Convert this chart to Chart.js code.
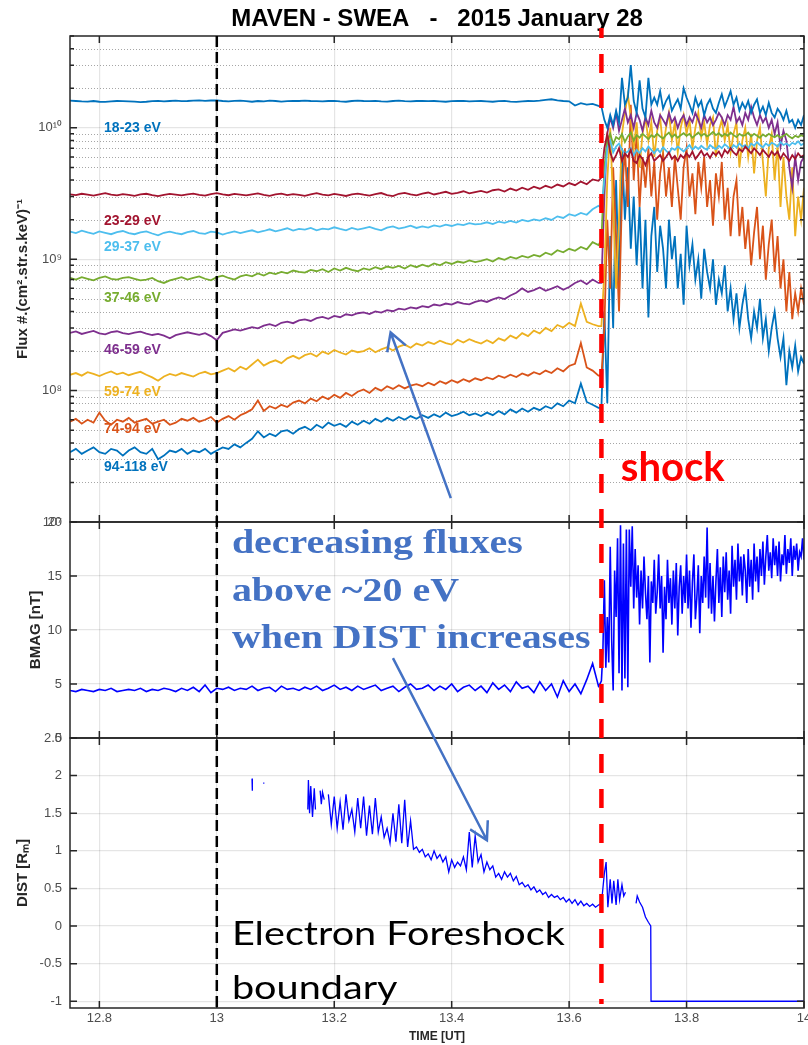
<!DOCTYPE html>
<html>
<head>
<meta charset="utf-8">
<script src="https://cdn.jsdelivr.net/npm/chart.js@4.4.1/dist/chart.umd.min.js"></script>
<style>
  html, body { margin: 0; padding: 0; background: #fff; }
  canvas { display: block; }
</style>
</head>
<body>
<canvas id="chart" width="808" height="1045"></canvas>
<script>
// sample times [UT hours]: 0.01 h before the shock, 0.005 h after it
const timeUT = [
  12.75, 12.76, 12.77, 12.78, 12.79, 12.80, 12.81, 12.82, 12.83, 12.84,
  12.85, 12.86, 12.87, 12.88, 12.89, 12.90, 12.91, 12.92, 12.93, 12.94,
  12.95, 12.96, 12.97, 12.98, 12.99, 13.00, 13.01, 13.02, 13.03, 13.04,
  13.05, 13.06, 13.07, 13.08, 13.09, 13.10, 13.11, 13.12, 13.13, 13.14,
  13.15, 13.16, 13.17, 13.18, 13.19, 13.20, 13.21, 13.22, 13.23, 13.24,
  13.25, 13.26, 13.27, 13.28, 13.29, 13.30, 13.31, 13.32, 13.33, 13.34,
  13.35, 13.36, 13.37, 13.38, 13.39, 13.40, 13.41, 13.42, 13.43, 13.44,
  13.45, 13.46, 13.47, 13.48, 13.49, 13.50, 13.51, 13.52, 13.53, 13.54,
  13.55, 13.56, 13.57, 13.58, 13.59, 13.60, 13.61, 13.62, 13.63, 13.64,
  13.65, 13.655, 13.66, 13.665, 13.67, 13.675, 13.68, 13.685, 13.69, 13.695,
  13.70, 13.705, 13.71, 13.715, 13.72, 13.725, 13.73, 13.735, 13.74, 13.745,
  13.75, 13.755, 13.76, 13.765, 13.77, 13.775, 13.78, 13.785, 13.79, 13.795,
  13.80, 13.805, 13.81, 13.815, 13.82, 13.825, 13.83, 13.835, 13.84, 13.845,
  13.85, 13.855, 13.86, 13.865, 13.87, 13.875, 13.88, 13.885, 13.89, 13.895,
  13.90, 13.905, 13.91, 13.915, 13.92, 13.925, 13.93, 13.935, 13.94, 13.945,
  13.95, 13.955, 13.96, 13.965, 13.97, 13.975, 13.98, 13.985, 13.99, 13.995,
  14.00
];

// SWEA flux per energy channel, in units of 1e7 #/(cm2 str s keV)
const flux_18_23 = [
  1610,1600,1590,1585,1600,1580,1575,1590,1600,1595,
  1590,1585,1570,1580,1595,1605,1590,1600,1610,1595,
  1600,1610,1620,1605,1615,1620,1600,1590,1605,1610,
  1595,1580,1600,1590,1610,1600,1585,1595,1605,1600,
  1610,1600,1595,1590,1600,1605,1590,1580,1600,1610,
  1600,1595,1605,1590,1585,1600,1610,1595,1590,1600,
  1605,1595,1600,1590,1580,1595,1600,1605,1590,1595,
  1600,1590,1580,1595,1605,1585,1575,1590,1600,1595,
  1610,1630,1650,1620,1600,1590,1480,1540,1500,1520,
  1470,1450,1150,1000,1250,1050,1350,1100,2400,1500,
  1700,3000,1600,1300,2300,1400,1200,2400,1500,1700,
  1500,1900,1400,1600,1750,1350,1500,1650,1400,2000,
  1700,1500,1300,1700,1450,1600,1250,1500,1650,1400,
  1300,1550,1800,1450,1650,1900,1500,1700,1350,1550,
  1400,1600,1300,1500,1650,1300,1450,1250,1550,1300,
  1200,1400,1300,1150,1350,1100,1150,1000,1150,1050,
  1250
];
const flux_23_29 = [
  312,308,315,310,305,312,318,310,306,313,
  309,304,311,315,308,302,309,314,310,306,
  312,316,309,305,313,318,311,307,314,310,
  306,312,317,309,304,311,316,308,313,309,
  304,312,318,310,306,314,309,303,311,316,
  310,305,313,319,308,302,315,320,311,306,
  316,322,311,318,326,314,320,329,317,324,
  331,322,335,340,327,345,333,350,338,356,
  344,362,350,370,358,380,366,390,372,405,
  395,420,700,900,650,560,620,700,560,640,
  600,680,560,540,620,580,520,600,640,560,
  590,620,560,600,650,580,610,560,620,590,
  640,600,660,580,620,670,610,640,590,650,
  620,660,600,680,640,700,650,620,690,660,
  720,680,640,700,660,620,680,640,600,660,
  620,660,580,640,600,560,620,580,640,600,
  620
];
const flux_29_37 = [
  162,158,165,160,156,163,159,155,161,164,
  158,155,160,163,157,152,159,162,158,155,
  161,164,158,156,162,160,154,159,163,158,
  162,166,160,164,169,163,167,172,165,170,
  168,173,166,171,169,175,170,166,173,168,
  172,176,170,166,174,178,171,175,180,173,
  178,174,181,177,183,179,185,182,188,184,
  186,191,185,193,189,196,190,199,194,201,
  197,205,199,212,206,220,214,225,218,240,
  255,245,400,700,800,650,720,760,680,640,
  660,700,620,680,640,700,660,720,680,640,
  690,650,710,670,640,700,680,720,690,660,
  700,740,680,720,690,730,700,680,740,710,
  690,730,700,750,720,680,740,710,760,720,
  740,700,760,730,780,740,710,760,730,770,
  750,720,780,740,760,730,770,750,790,740,
  760
];
const flux_37_46 = [
  72,70,73,71,69,72,74,71,70,72,
  73,71,69,70,72,68,66,69,71,73,
  70,72,74,71,69,73,75,72,70,74,
  76,74,78,75,79,77,80,78,82,80,
  79,83,81,84,80,85,82,86,83,81,
  85,83,87,84,88,86,89,85,90,87,
  91,88,93,90,95,92,96,94,98,95,
  97,100,96,102,99,104,101,106,103,108,
  105,112,108,117,113,120,116,124,119,135,
  128,140,500,800,900,750,850,820,900,780,
  860,920,800,880,840,900,860,820,880,850,
  900,860,830,880,920,850,890,840,880,910,
  870,900,840,880,920,870,900,860,890,930,
  880,910,860,900,870,920,880,850,900,870,
  880,920,860,900,870,840,890,860,900,870,
  850,880,840,870,900,860,830,870,850,880,
  860
];
const flux_46_59 = [
  27.5,28.2,27.0,27.8,28.5,27.3,26.8,27.9,28.3,27.4,
  26.9,27.6,28.1,27.2,26.5,27.0,26.2,25.0,26.4,27.1,
  27.8,27.2,26.6,27.4,26.0,24.2,27.5,28.4,29.2,28.6,
  29.5,30.4,29.8,31.2,32.0,31.0,32.8,33.5,32.6,34.2,
  34.8,33.9,35.6,36.4,35.2,37.0,36.2,38.1,37.4,38.8,
  39.4,38.2,40.1,39.3,41.0,40.2,42.1,41.3,43.0,42.2,
  44.0,43.1,45.2,44.3,46.0,45.1,47.2,46.0,45.3,47.4,
  48.6,47.3,49.5,51.2,49.8,53.0,55.5,60.0,56.4,58.2,
  61.0,57.5,59.8,62.4,58.6,61.5,66.0,69.0,64.5,70.0,
  66.0,66.0,300,900,1200,1000,1300,950,1150,1400,
  1100,1250,1000,1300,1150,950,1200,1050,1350,1100,
  1000,1250,1150,1050,1300,1100,1200,1000,1150,1250,
  1050,1200,1100,1300,1150,1000,1250,1100,1200,1050,
  1150,1300,1200,1050,1250,1150,1450,1100,1200,1050,
  1300,1150,1450,1200,1050,1250,1100,1200,1000,1150,
  900,1100,720,950,800,500,350,600,400,550,
  600
];
const flux_59_74 = [
  13.2,13.6,13.0,13.8,13.4,12.9,13.5,14.0,13.3,13.7,
  13.1,13.5,13.9,13.2,12.6,11.9,12.8,13.4,13.0,13.6,
  13.2,12.8,13.5,13.9,13.3,13.6,14.2,14.8,14.0,15.2,
  14.5,15.8,17.2,15.5,16.4,17.0,16.2,17.6,18.4,17.5,
  18.6,19.2,18.2,19.8,19.0,20.4,19.5,18.8,20.2,19.6,
  20.0,21.0,19.6,20.6,21.4,20.2,21.6,22.4,21.2,22.8,
  22.0,23.4,22.6,24.0,23.0,22.4,24.4,23.2,24.6,23.6,
  22.8,24.2,23.0,25.0,24.0,26.2,25.0,27.4,26.0,28.6,
  27.2,30.0,28.4,31.6,30.2,32.8,31.0,46.0,33.4,32.0,
  31.0,31.0,80,400,1000,250,60,200,900,1300,
  1800,1200,700,1100,500,900,1200,800,1100,600,
  950,1200,700,1000,1300,800,1100,650,1000,1250,
  900,1150,700,1000,1300,850,1100,750,1050,1200,
  600,950,1150,800,1050,650,900,1100,500,800,
  1000,600,900,450,800,1000,550,300,700,900,
  400,750,250,600,300,200,500,150,300,200,
  350
];
const flux_74_94 = [
  5.8,6.1,5.6,6.0,5.7,6.8,5.9,5.5,6.0,5.8,
  6.2,5.7,5.9,6.1,5.6,5.8,6.0,5.5,5.7,6.1,
  5.9,6.2,5.8,6.0,6.3,5.7,6.1,6.4,6.0,6.5,
  6.8,7.2,8.4,7.0,7.6,7.3,7.8,7.5,8.1,8.4,
  8.0,8.7,8.3,9.0,8.6,9.3,8.8,9.6,9.1,9.8,
  10.2,9.6,10.5,10.0,10.8,10.3,11.0,10.4,10.9,11.2,
  10.8,11.5,11.0,11.8,11.3,12.0,11.5,12.2,11.7,12.4,
  12.0,12.6,12.2,13.0,12.5,13.2,12.7,13.5,13.0,13.8,
  13.3,14.2,13.6,14.8,14.0,15.4,16.0,23.0,15.0,14.2,
  13.0,13.0,30,200,60,500,150,40,300,700,
  250,1500,400,900,250,600,350,700,300,550,
  200,450,650,300,500,250,600,350,200,500,
  700,300,450,220,550,350,600,250,400,180,
  450,300,550,200,350,150,300,400,150,250,
  120,200,90,160,250,100,180,70,130,200,
  80,150,60,100,40,80,35,55,40,60,
  45
];
const flux_94_118 = [
  3.4,3.6,3.3,3.5,3.7,3.4,3.3,3.6,3.5,3.2,
  3.5,3.7,3.4,3.3,3.6,3.0,3.2,3.5,3.4,3.6,
  3.3,3.5,3.4,3.6,3.3,3.5,3.7,3.6,3.9,3.7,
  4.0,4.3,4.9,4.4,4.7,4.5,4.9,5.0,4.7,5.1,
  5.3,5.0,5.5,5.2,5.7,5.4,5.6,5.3,5.8,5.5,
  5.9,5.6,6.1,5.8,6.2,5.9,6.3,6.0,6.4,6.1,
  6.5,6.2,6.6,6.3,6.8,6.4,6.6,6.9,6.5,6.7,
  6.4,6.8,6.5,7.0,6.6,7.2,6.8,7.3,6.9,7.4,
  7.1,7.6,7.3,8.0,7.6,8.4,8.0,11.3,8.2,7.8,
  7.4,7.4,40,8,150,30,400,60,700,200,
  500,120,300,90,250,60,200,36,150,250,
  80,180,120,60,200,100,150,60,110,45,
  180,90,130,70,100,50,120,80,60,100,
  45,70,55,90,40,60,35,55,30,45,
  60,35,25,40,30,50,25,35,20,30,
  40,25,18,25,11,20,15,22,14,18,
  16
];

// magnetic field magnitude [nT]: first on timeUT up to 13.65, then 0.0025 h samples
const bmagPre = [
  4.4,4.3,4.5,4.4,4.3,4.5,4.4,4.6,4.3,4.4,
  4.5,4.4,4.6,4.3,4.5,4.4,4.6,4.5,4.3,4.6,
  4.4,4.7,4.3,4.9,4.2,4.6,4.5,4.7,4.4,4.6,
  4.5,4.8,4.4,4.6,4.7,4.3,4.8,4.5,4.6,4.4,
  4.7,4.5,4.8,4.4,4.6,4.9,4.5,4.7,4.4,4.8,
  4.5,4.7,4.9,4.4,4.6,4.8,4.3,4.7,5.0,4.5,
  4.6,4.9,4.4,4.8,4.5,5.0,4.3,4.7,4.9,4.4,
  4.8,4.2,5.1,4.5,4.9,4.3,5.2,4.6,4.8,4.2,
  5.2,4.4,5.0,3.8,5.3,4.3,5.0,4.1,5.4,6.9,
  4.8
];
const bmagPostTime = [
  13.6525, 13.655, 13.6575, 13.66, 13.6625, 13.665, 13.6675, 13.67, 13.6725, 13.675,
  13.6775, 13.68, 13.6825, 13.685, 13.6875, 13.69, 13.6925, 13.695, 13.6975, 13.70,
  13.7025, 13.705, 13.7075, 13.71, 13.7125, 13.715, 13.7175, 13.72, 13.7225, 13.725,
  13.7275, 13.73, 13.7325, 13.735, 13.7375, 13.74, 13.7425, 13.745, 13.7475, 13.75,
  13.7525, 13.755, 13.7575, 13.76, 13.7625, 13.765, 13.7675, 13.77, 13.7725, 13.775,
  13.7775, 13.78, 13.7825, 13.785, 13.7875, 13.79, 13.7925, 13.795, 13.7975, 13.80,
  13.8025, 13.805, 13.8075, 13.81, 13.8125, 13.815, 13.8175, 13.82, 13.8225, 13.825,
  13.8275, 13.83, 13.8325, 13.835, 13.8375, 13.84, 13.8425, 13.845, 13.8475, 13.85,
  13.8525, 13.855, 13.8575, 13.86, 13.8625, 13.865, 13.8675, 13.87, 13.8725, 13.875,
  13.8775, 13.88, 13.8825, 13.885, 13.8875, 13.89, 13.8925, 13.895, 13.8975, 13.90,
  13.9025, 13.905, 13.9075, 13.91, 13.9125, 13.915, 13.9175, 13.92, 13.9225, 13.925,
  13.9275, 13.93, 13.9325, 13.935, 13.9375, 13.94, 13.9425, 13.945, 13.9475, 13.95,
  13.9525, 13.955, 13.9575, 13.96, 13.9625, 13.965, 13.9675, 13.97, 13.9725, 13.975,
  13.9775, 13.98, 13.9825, 13.985, 13.9875, 13.99, 13.9925, 13.995, 13.9975, 14.00
];
const bmagPost = [
  5.0,5.3,8.0,14.6,6.5,11.2,7.0,17.7,9.0,4.4,
  15.5,11.2,18.5,6.0,19.7,4.4,18.0,5.5,19.3,4.7,
  19.3,14.0,19.6,12.0,17.5,13.0,16.0,10.5,15.5,12.0,
  16.8,13.5,11.0,15.0,7.0,14.5,12.5,16.5,11.5,13.5,
  17.0,12.0,15.0,7.9,14.0,11.0,16.5,12.5,14.8,10.5,
  15.5,12.0,16.2,9.5,14.0,16.0,11.5,15.0,12.5,17.0,
  12.0,15.5,10.2,14.5,17.0,11.0,13.0,16.0,9.7,15.0,
  12.5,16.8,13.0,19.5,12.0,16.2,11.5,15.0,10.8,14.5,
  17.5,12.5,15.8,11.2,16.8,13.5,17.2,12.8,15.5,11.5,
  17.8,14.0,16.5,12.8,18.0,14.5,16.8,13.2,17.0,15.5,
  12.5,17.5,14.0,16.5,12.8,18.0,14.5,16.8,13.5,17.5,
  15.0,18.2,14.2,16.8,18.8,15.5,17.2,14.8,18.5,16.0,
  17.8,15.0,18.2,14.5,17.0,16.0,18.8,15.2,17.5,16.2,
  18.5,15.0,17.8,16.5,18.0,15.5,17.2,16.8,18.5,16.5
];

// distance to the foreshock boundary [R_M]; null = no value (gap)
const distTime = [
  13.060, 13.0605, 13.061,
  13.079, 13.081, 13.082,
  13.155, 13.156, 13.158, 13.160, 13.163, 13.166, 13.168, 13.170,
  13.176, 13.178, 13.180, 13.183, 13.185,
  13.190, 13.195, 13.200, 13.205, 13.210, 13.215, 13.220, 13.225, 13.230, 13.235,
  13.240, 13.245, 13.250, 13.255, 13.260, 13.265, 13.270, 13.275, 13.280, 13.285,
  13.290, 13.295, 13.300, 13.305, 13.310, 13.315, 13.320, 13.325, 13.330, 13.335,
  13.340, 13.345, 13.350, 13.355, 13.360, 13.365, 13.370, 13.375, 13.380, 13.385,
  13.390, 13.395, 13.400, 13.405, 13.410, 13.415, 13.420, 13.425, 13.430, 13.435,
  13.440, 13.445, 13.450, 13.455, 13.460, 13.465, 13.470, 13.475, 13.480, 13.485,
  13.490, 13.495, 13.500, 13.505, 13.510, 13.515, 13.520, 13.525, 13.530, 13.535,
  13.540, 13.545, 13.550, 13.555, 13.560, 13.565, 13.570, 13.575, 13.580, 13.585,
  13.590, 13.595, 13.600, 13.605, 13.610, 13.615, 13.620, 13.625, 13.630, 13.635,
  13.640, 13.645, 13.650, 13.655, 13.660, 13.663, 13.666, 13.670, 13.673, 13.676,
  13.680, 13.683, 13.686, 13.690, 13.693, 13.696, 13.700,
  13.714, 13.716, 13.720, 13.725, 13.730, 13.735, 13.739, 13.7395, 14.000
];
const distValues = [
  1.96, 1.80, null,
  1.90, 1.90, null,
  1.55, 1.94, 1.50, 1.86, 1.45, 1.83, 1.55, null,
  1.80, 1.62, 1.78, 1.68, null,
  1.75, 1.35, 1.72, 1.30, 1.65, 1.28, 1.75, 1.40, 1.55, 1.25,
  1.70, 1.30, 1.72, 1.20, 1.60, 1.22, 1.70, 1.25, 1.45, 1.18,
  1.30, 1.10, 1.50, 1.12, 1.62, 1.10, 1.68, 1.05, 1.40, 1.02,
  1.05, 0.98, 1.02, 0.92, 0.96, 0.88, 1.00, 0.90, 0.95, 0.85,
  0.92, 0.72, 0.88, 0.78, 0.85, 0.80, 0.92, 0.75, 1.25, 0.78,
  1.20, 0.85, 0.95, 0.72, 0.85, 0.75, 0.80, 0.65, 0.70, 0.62,
  0.72, 0.65, 0.70, 0.60, 0.66, 0.55, 0.58, 0.52, 0.55, 0.48,
  0.52, 0.45, 0.48, 0.42, 0.45, 0.38, 0.42, 0.38, 0.40, 0.35,
  0.38, 0.32, 0.36, 0.30, 0.35, 0.28, 0.33, 0.27, 0.30, 0.26,
  0.29, 0.25, 0.28, 0.30, 0.70, 0.85, 0.25, 0.62, 0.30, 0.60,
  0.28, 0.62, 0.35, 0.55, 0.40, 0.45, null,
  0.30, 0.40, 0.32, 0.25, 0.12, 0.05, 0.00, -1.00, -1.00
];

const energyLabels = ['18-23 eV', '23-29 eV', '29-37 eV', '37-46 eV', '46-59 eV', '59-74 eV', '74-94 eV', '94-118 eV'];
const energyColors = ['#0072bd', '#a2142f', '#4dbeee', '#77ac30', '#7e2f8e', '#edb120', '#d95319', '#0072bd'];
const labelFlux = [1000, 195, 123, 51, 20.2, 9.8, 5.1, 2.6];   // channel label heights, 1e7 units
const labelTime = 12.808;
const boundaryTime = 13.0;
const shockTime = 13.655;

const fluxSeries = [flux_18_23, flux_23_29, flux_29_37, flux_37_46, flux_46_59, flux_59_74, flux_74_94, flux_94_118];

const SANS = '"Liberation Sans", Arial, Helvetica, sans-serif';
const FRAME = '#262626';
const TICK_COLOR = '#4d4d4d';
const NOTE_BLUE = '#4472c4';

Chart.defaults.font.family = SANS;

const SUP = {'0': '⁰', '1': '¹', '2': '²', '3': '³', '4': '⁴', '5': '⁵', '6': '⁶', '7': '⁷', '8': '⁸', '9': '⁹', '-': '⁻'};
const toSup = s => String(s).split('').map(c => SUP[c]).join('');

function isDecade(v) {
  const e = Math.log10(v);
  return Math.abs(e - Math.round(e)) < 1e-6;
}
function isWholeMantissa(v) {
  const m = v / Math.pow(10, Math.floor(Math.log10(v) + 1e-9));
  return Math.abs(m - Math.round(m)) < 1e-6;
}

function drawArrow(ctx, x0, y0, x1, y1) {
  const a = Math.atan2(y0 - y1, x0 - x1);
  ctx.beginPath();
  ctx.moveTo(x0, y0);
  ctx.lineTo(x1, y1);
  ctx.moveTo(x1 + 20 * Math.cos(a - 0.52), y1 + 20 * Math.sin(a - 0.52));
  ctx.lineTo(x1, y1);
  ctx.lineTo(x1 + 20 * Math.cos(a + 0.52), y1 + 20 * Math.sin(a + 0.52));
  ctx.stroke();
}

// slide text is a bit wider than the font, so stretch it to the measured width
function stretchedText(ctx, lines, x, ys, font, color, width) {
  ctx.font = font;
  const sx = width / ctx.measureText(lines[0]).width;
  ctx.fillStyle = color;
  ctx.textAlign = 'left';
  ctx.textBaseline = 'alphabetic';
  lines.forEach((t, i) => {
    ctx.save();
    ctx.translate(x, ys[i]);
    ctx.scale(sx, 1);
    ctx.fillText(t, 0, 0);
    ctx.restore();
  });
}

const panelDecor = {
  id: 'panelDecor',
  beforeDatasetsDraw(chart) {
    // dotted minor grid of the log panel
    const {ctx, chartArea: a, scales: {flux}} = chart;
    ctx.save();
    ctx.strokeStyle = 'rgba(0,0,0,0.35)';
    ctx.lineWidth = 1;
    ctx.setLineDash([1, 2]);
    flux.ticks.forEach(t => {
      if (isDecade(t.value) || !isWholeMantissa(t.value) || t.value >= flux.max) return;
      const y = Math.round(flux.getPixelForValue(t.value)) + 0.5;
      ctx.beginPath();
      ctx.moveTo(a.left, y);
      ctx.lineTo(a.right, y);
      ctx.stroke();
    });
    ctx.restore();
  },
  afterDatasetsDraw(chart) {
    const {ctx, chartArea: a, scales: {x, flux, bmag, dist}} = chart;
    ctx.save();

    // channel labels
    ctx.font = 'bold 14px ' + SANS;
    ctx.textAlign = 'left';
    ctx.textBaseline = 'middle';
    energyLabels.forEach((lab, i) => {
      ctx.fillStyle = energyColors[i];
      ctx.fillText(lab, x.getPixelForValue(labelTime), flux.getPixelForValue(labelFlux[i] * 1e7));
    });

    // panel boxes with inward ticks
    ctx.strokeStyle = FRAME;
    ctx.lineWidth = 1.5;
    [flux, bmag, dist].forEach(s => {
      ctx.strokeRect(a.left, s.top, a.right - a.left, s.bottom - s.top);
      ctx.beginPath();
      x.ticks.forEach(t => {
        const px = x.getPixelForValue(t.value);
        ctx.moveTo(px, s.top);
        ctx.lineTo(px, s.top + 7);
        ctx.moveTo(px, s.bottom);
        ctx.lineTo(px, s.bottom - 7);
      });
      s.ticks.forEach(t => {
        if (s === flux && !isWholeMantissa(t.value)) return;
        const py = s.getPixelForValue(t.value);
        const len = (s === flux && !isDecade(t.value)) ? 4 : 7;
        ctx.moveTo(a.left, py);
        ctx.lineTo(a.left + len, py);
        ctx.moveTo(a.right, py);
        ctx.lineTo(a.right - len, py);
      });
      ctx.stroke();
    });

    // foreshock boundary crossing and shock
    const bx = x.getPixelForValue(boundaryTime);
    ctx.setLineDash([11, 5]);
    ctx.lineWidth = 2.5;
    ctx.strokeStyle = '#000';
    ctx.beginPath();
    ctx.moveTo(bx, a.top);
    ctx.lineTo(bx, a.bottom);
    ctx.stroke();

    const shx = x.getPixelForValue(shockTime);
    ctx.setLineDash([19, 16]);
    ctx.lineDashOffset = 9;
    ctx.lineWidth = 4.5;
    ctx.strokeStyle = '#ff0000';
    ctx.beginPath();
    ctx.moveTo(shx, a.top - 8);
    ctx.lineTo(shx, a.bottom - 4);
    ctx.stroke();
    ctx.setLineDash([]);
    ctx.lineDashOffset = 0;

    // slide annotations
    stretchedText(ctx, ['shock'], x.getPixelForValue(13.688), [flux.getPixelForValue(2.06e7)],
      'bold 40px Lato, ' + SANS, '#ff0000', 104);
    stretchedText(ctx, ['decreasing fluxes', 'above ~20 eV', 'when DIST increases'],
      x.getPixelForValue(13.0257),
      [bmag.getPixelForValue(17.13), bmag.getPixelForValue(12.69), bmag.getPixelForValue(8.33)],
      'bold 33px "Liberation Serif", "Times New Roman", serif', NOTE_BLUE, 291);
    stretchedText(ctx, ['Electron Foreshock', 'boundary'],
      x.getPixelForValue(13.0257),
      [dist.getPixelForValue(-0.256), dist.getPixelForValue(-0.973)],
      '32px Lato, ' + SANS, '#000', 333);

    ctx.strokeStyle = NOTE_BLUE;
    ctx.lineWidth = 2.5;
    drawArrow(ctx, x.getPixelForValue(13.3985), flux.getPixelForValue(1.52e7),
      x.getPixelForValue(13.296), flux.getPixelForValue(2.77e8));
    drawArrow(ctx, x.getPixelForValue(13.300), bmag.getPixelForValue(7.4),
      x.getPixelForValue(13.460), dist.getPixelForValue(1.14));

    ctx.restore();
  }
};

const datasets = fluxSeries.map((vals, i) => ({
  label: energyLabels[i],
  data: vals.map((v, j) => ({x: timeUT[j], y: v * 1e7})),
  yAxisID: 'flux',
  borderColor: energyColors[i],
  borderWidth: 1.8,
  pointRadius: 0,
  tension: 0
}));
datasets.push({
  label: 'BMAG',
  data: bmagPre.map((v, j) => ({x: timeUT[j], y: v}))
    .concat(bmagPost.map((v, j) => ({x: bmagPostTime[j], y: v}))),
  yAxisID: 'bmag',
  borderColor: '#0000ff',
  borderWidth: 1.6,
  pointRadius: 0,
  tension: 0
});
datasets.push({
  label: 'DIST',
  data: distValues.map((v, j) => ({x: distTime[j], y: v})),
  yAxisID: 'dist',
  borderColor: '#0000ff',
  borderWidth: 1.3,
  pointRadius: 0,
  tension: 0,
  spanGaps: false
});

const yTicks = {color: TICK_COLOR, font: {size: 13}, padding: 8, autoSkip: false};
const yTitle = (text, pad) => ({
  display: true, text: text, color: FRAME,
  font: {size: 15, weight: 'bold'}, padding: {top: pad, bottom: 0}
});
const fixWidth = s => { s.width = 70; s.paddingTop = 0; s.paddingBottom = 0; };

new Chart(document.getElementById('chart'), {
  type: 'line',
  data: {datasets: datasets},
  options: {
    responsive: false,
    animation: false,
    layout: {padding: {left: 0, right: 4, top: 0, bottom: 1}},
    plugins: {
      legend: {display: false},
      tooltip: {enabled: false},
      title: {
        display: true,
        fullSize: false,
        text: 'MAVEN - SWEA   -   2015 January 28',
        color: '#000',
        font: {size: 24, weight: 'bold'},
        padding: {top: 4.6, bottom: 2.6}
      }
    },
    scales: {
      x: {
        type: 'linear', position: 'bottom', min: 12.75, max: 14,
        ticks: {
          stepSize: 0.2, includeBounds: false, autoSkip: false, maxRotation: 0,
          padding: 3, color: TICK_COLOR, font: {size: 13},
          callback: v => String(Number(v.toFixed(1)))
        },
        grid: {color: 'rgba(0,0,0,0.1)', lineWidth: 1.2, drawTicks: false},
        border: {display: false},
        title: {display: true, text: 'TIME [UT]', color: FRAME, font: {size: 12, weight: 'bold'}, padding: {top: 0, bottom: 0}},
        afterFit: s => { s.paddingLeft = 0; s.paddingRight = 0; }
      },
      flux: {
        type: 'logarithmic', position: 'left', stack: 'panels', stackWeight: 486, weight: 3,
        min: 1e7, max: 5e10,
        ticks: Object.assign({}, yTicks, {
          callback: v => isDecade(v) ? '10' + toSup(Math.round(Math.log10(v))) : ''
        }),
        grid: {
          drawTicks: false, lineWidth: 1.2,
          color: c => (c.tick && isDecade(c.tick.value)) ? 'rgba(0,0,0,0.1)' : 'rgba(0,0,0,0)'
        },
        border: {display: false},
        title: yTitle('Flux #.(cm².str.s.keV)⁻¹', 14),
        afterFit: fixWidth
      },
      bmag: {
        type: 'linear', position: 'left', stack: 'panels', stackWeight: 216, weight: 2,
        min: 0, max: 20,
        ticks: Object.assign({}, yTicks, {stepSize: 5}),
        grid: {drawTicks: false, lineWidth: 1.2, color: 'rgba(0,0,0,0.1)'},
        border: {display: false},
        title: yTitle('BMAG [nT]', 27),
        afterFit: fixWidth
      },
      dist: {
        type: 'linear', position: 'left', stack: 'panels', stackWeight: 270, weight: 1,
        min: -1.09, max: 2.5,
        ticks: Object.assign({}, yTicks, {
          stepSize: 0.5, includeBounds: false,
          callback: v => String(Number(v.toFixed(2)))
        }),
        grid: {drawTicks: false, lineWidth: 1.2, color: 'rgba(0,0,0,0.1)'},
        border: {display: false},
        title: yTitle('DIST [Rₘ]', 14),
        afterFit: fixWidth
      }
    }
  },
  plugins: [panelDecor]
});
</script>
</body>
</html>
